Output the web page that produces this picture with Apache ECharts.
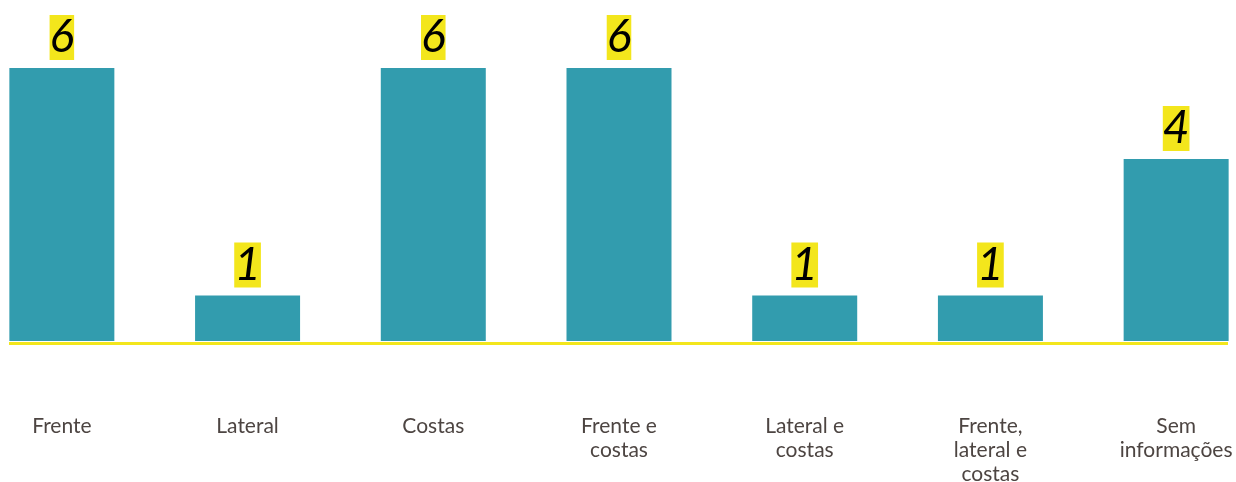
<!DOCTYPE html>
<html>
<head>
<meta charset="utf-8">
<script src="https://cdn.jsdelivr.net/npm/echarts@6/dist/echarts.min.js"></script>
<style>
  html, body { margin: 0; padding: 0; background: #ffffff; }
  #chart { width: 1236px; height: 482px; }
</style>
</head>
<body>
<div id="chart"></div>
<script>
// Position of the injury, number of cases
const categories = [
  'Frente',
  'Lateral',
  'Costas',
  'Frente e\ncostas',
  'Lateral e\ncostas',
  'Frente,\nlateral e\ncostas',
  'Sem\ninformações'
];
const casos = [6, 1, 6, 6, 1, 1, 4];

const TEAL = '#329cae';
const YELLOW = '#f3e61c';
const TEXT = '#4d4542';

const chart = echarts.init(document.getElementById('chart'), null, { renderer: 'canvas' });

chart.setOption({
  animation: false,
  backgroundColor: '#ffffff',
  grid: {
    left: -31, right: -33, top: 68, bottom: 141,
    containLabel: false,
    outerBoundsMode: 'none'
  },
  xAxis: {
    type: 'category',
    data: categories,
    axisLine: { show: false },
    axisTick: { show: false },
    axisLabel: {
      interval: 0,
      margin: 73,
      fontFamily: 'Lato',
      fontSize: 21,
      lineHeight: 24,
      color: TEXT
    }
  },
  yAxis: {
    type: 'value',
    min: 0,
    max: 6,
    show: false,
    splitLine: { show: false }
  },
  series: [{
    type: 'bar',
    data: casos,
    barWidth: 105,
    itemStyle: { color: TEAL },
    label: {
      show: true,
      position: 'top',
      distance: 8,
      formatter: '{c}',
      fontFamily: 'Lato',
      fontStyle: 'italic',
      fontSize: 46,
      lineHeight: 45,
      color: '#000000',
      backgroundColor: YELLOW,
      padding: [0, 0]
    }
  }],
  graphic: [{
    type: 'line',
    shape: { x1: 9, y1: 343.5, x2: 1228, y2: 343.5 },
    style: { stroke: YELLOW, lineWidth: 3 },
    silent: true
  }]
});
</script>
</body>
</html>
